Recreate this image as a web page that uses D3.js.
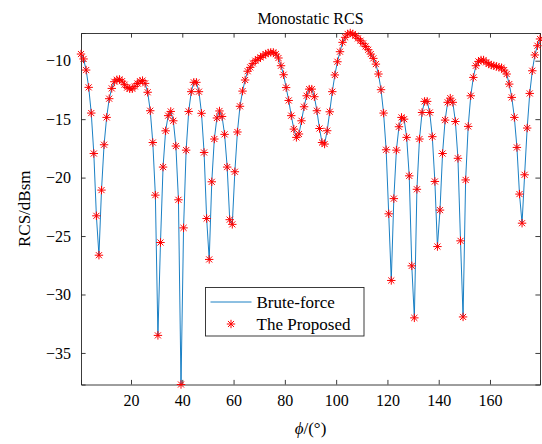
<!DOCTYPE html>
<html>
<head>
<meta charset="utf-8">
<script src="https://cdn.jsdelivr.net/npm/d3@7"></script>
<style>
  body { margin: 0; background: white; }
  text { font-family: "Liberation Serif", "Times New Roman", serif; fill: #000; }
</style>
</head>
<body>
<div id="chart"></div>
<script>
// monostatic RCS, one sample per degree
var phi = d3.range(0.5, 180, 1)
var rcs = [
  -9.43, -9.85, -10.8, -12.28, -14.48, -17.94, -23.27, -26.64, -21.07, -17.19,
  -14.85, -13.25, -12.37, -11.8, -11.63, -11.6, -11.75, -12.05, -12.3, -12.4,
  -12.4, -12.2, -11.95, -11.75, -11.7, -11.94, -12.7, -14.28, -17.0, -21.5,
  -33.5, -25.55, -19.1, -16.0, -14.7, -14.34, -15.14, -17.3, -21.9, -37.7,
  -24.3, -17.65, -14.34, -12.65, -11.85, -11.85, -12.65, -14.5, -17.85, -23.5,
  -27.0, -20.36, -16.7, -14.9, -14.3, -14.77, -16.3, -19.1, -23.6, -24.0,
  -19.5, -16.1, -13.9, -12.6, -11.65, -10.9, -10.57, -10.23, -10.0, -9.86,
  -9.72, -9.57, -9.43, -9.34, -9.29, -9.29, -9.43, -9.77, -10.43, -11.2,
  -12.3, -13.4, -14.7, -15.85, -16.56, -16.27, -15.14, -13.94, -13.0, -12.43,
  -12.43, -13.08, -14.28, -15.8, -17.0, -17.13, -15.99, -14.37, -12.65, -11.22,
  -10.09, -9.23, -8.43, -8.0, -7.71, -7.63, -7.71, -7.86, -8.09, -8.29,
  -8.52, -8.78, -9.06, -9.43, -9.8, -10.29, -11.14, -12.48, -14.48, -17.62,
  -23.1, -28.8, -21.8, -17.65, -15.65, -14.85, -15.0, -16.56, -19.85, -27.55,
  -32.0, -21.0, -16.7, -14.43, -13.48, -13.48, -14.43, -16.5, -20.33, -25.9,
  -22.78, -17.94, -15.08, -13.56, -13.2, -13.56, -15.2, -18.35, -25.41, -31.92,
  -20.2, -15.62, -13.0, -11.43, -10.43, -10.06, -9.94, -9.94, -10.14, -10.28,
  -10.37, -10.43, -10.49, -10.57, -10.6, -10.8, -11.14, -12.0, -13.14, -14.85,
  -17.42, -21.41, -23.9, -19.76, -15.76, -12.8, -10.86, -9.51, -8.72, -8.14
]
var xTicks = [20, 40, 60, 80, 100, 120, 140, 160]
var yTicks = [-35, -30, -25, -20, -15, -10]
var seriesNames = ["Brute-force", "The Proposed"]

var data = phi.map((p, i) => ({ phi: p, rcs: rcs[i] }))
var xAccessor = d => d.phi
var yAccessor = d => d.rcs

var lineColour = "#0072BD"
var markerColour = "#FF0000"
var axisColour = "#262626"

var dimensions = {
  width: 542,
  height: 444,
  margin: { top: 33, right: 2, bottom: 59.5, left: 81 }
}
dimensions.boundedWidth = dimensions.width - dimensions.margin.left - dimensions.margin.right
dimensions.boundedHeight = dimensions.height - dimensions.margin.top - dimensions.margin.bottom

var wrapper = d3.select("#chart")
  .append("svg")
  .attr("width", dimensions.width)
  .attr("height", dimensions.height)

wrapper.append("rect")
  .attr("width", dimensions.width)
  .attr("height", dimensions.height)
  .attr("fill", "white")

var bounds = wrapper.append("g")
  .attr("transform", `translate(${dimensions.margin.left},${dimensions.margin.top})`)

var xScale = d3.scaleLinear()
  .domain(d3.extent(data, xAccessor))
  .range([0, dimensions.boundedWidth])

var yScale = d3.scaleLinear()
  .domain(d3.extent(data, yAccessor))
  .range([dimensions.boundedHeight, 0])

var tickLen = 4.6
var fmt = d => d < 0 ? "\u2212" + Math.abs(d) : d

// axes, MATLAB style box with inward ticks
bounds.append("g")
  .attr("transform", `translate(0,${dimensions.boundedHeight})`)
  .call(d3.axisBottom(xScale).tickValues(xTicks).tickSize(-tickLen).tickPadding(10).tickFormat(fmt))
  .call(g => g.selectAll("text").style("font-size", "16px").attr("dy", "0.71em"))

bounds.append("g")
  .call(d3.axisTop(xScale).tickValues(xTicks).tickSize(-tickLen).tickFormat(""))

bounds.append("g")
  .call(d3.axisLeft(yScale).tickValues(yTicks).tickSize(-tickLen).tickPadding(10).tickFormat(fmt))
  .call(g => g.selectAll("text").style("font-size", "16px"))

bounds.append("g")
  .attr("transform", `translate(${dimensions.boundedWidth},0)`)
  .call(d3.axisRight(yScale).tickValues(yTicks).tickSize(-tickLen).tickFormat(""))

bounds.selectAll(".domain").attr("stroke", axisColour).attr("stroke-width", 0.9)
bounds.selectAll(".tick line").attr("stroke", axisColour).attr("stroke-width", 0.9)
bounds.selectAll(".tick text").attr("fill", "#000").style("font-family", "Liberation Serif, serif")

// line
var lineGenerator = d3.line()
  .x(d => xScale(xAccessor(d)))
  .y(d => yScale(yAccessor(d)))

bounds.append("path")
  .datum(data)
  .attr("fill", "none")
  .attr("stroke", lineColour)
  .attr("stroke-width", 0.9)
  .attr("d", lineGenerator)

// asterisk markers
var r = 4.2
var star = `M${-r},0L${r},0M0,${-r}L0,${r}M${-r * 0.72},${-r * 0.72}L${r * 0.72},${r * 0.72}M${-r * 0.72},${r * 0.72}L${r * 0.72},${-r * 0.72}`

bounds.selectAll(".marker")
  .data(data).enter()
  .append("path")
  .attr("class", "marker")
  .attr("d", star)
  .attr("transform", d => `translate(${xScale(xAccessor(d))},${yScale(yAccessor(d))})`)
  .attr("fill", "none")
  .attr("stroke", markerColour)
  .attr("stroke-width", 1)

// labels
wrapper.append("text")
  .attr("x", dimensions.margin.left + dimensions.boundedWidth / 2)
  .attr("y", 24)
  .attr("text-anchor", "middle")
  .style("font-size", "16px")
  .text("Monostatic RCS")

wrapper.append("text")
  .attr("transform", `translate(30,${dimensions.margin.top + dimensions.boundedHeight / 2}) rotate(-90)`)
  .attr("text-anchor", "middle")
  .style("font-size", "17px")
  .text("RCS/dBsm")

var xLabel = wrapper.append("text")
  .attr("x", dimensions.margin.left + dimensions.boundedWidth / 2)
  .attr("y", 434)
  .attr("text-anchor", "middle")
  .style("font-size", "17px")
xLabel.append("tspan").style("font-style", "italic").text("\u03d5")
xLabel.append("tspan").text("/(\u00b0)")

// legend
var legend = wrapper.append("g")
  .attr("transform", "translate(205.5,287.5)")

legend.append("rect")
  .attr("width", 158.5)
  .attr("height", 48.5)
  .attr("fill", "white")
  .attr("stroke", axisColour)
  .attr("stroke-width", 0.9)

legend.append("line")
  .attr("x1", 5).attr("x2", 46)
  .attr("y1", 14.5).attr("y2", 14.5)
  .attr("stroke", lineColour)
  .attr("stroke-width", 0.9)

legend.append("path")
  .attr("d", star)
  .attr("transform", "translate(25.5,36.5)")
  .attr("fill", "none")
  .attr("stroke", markerColour)
  .attr("stroke-width", 1)

legend.selectAll(".legend-label")
  .data(seriesNames).enter()
  .append("text")
  .attr("class", "legend-label")
  .attr("x", 51)
  .attr("y", (d, i) => 20 + i * 22)
  .style("font-size", "17px")
  .text(d => d)
</script>
</body>
</html>
